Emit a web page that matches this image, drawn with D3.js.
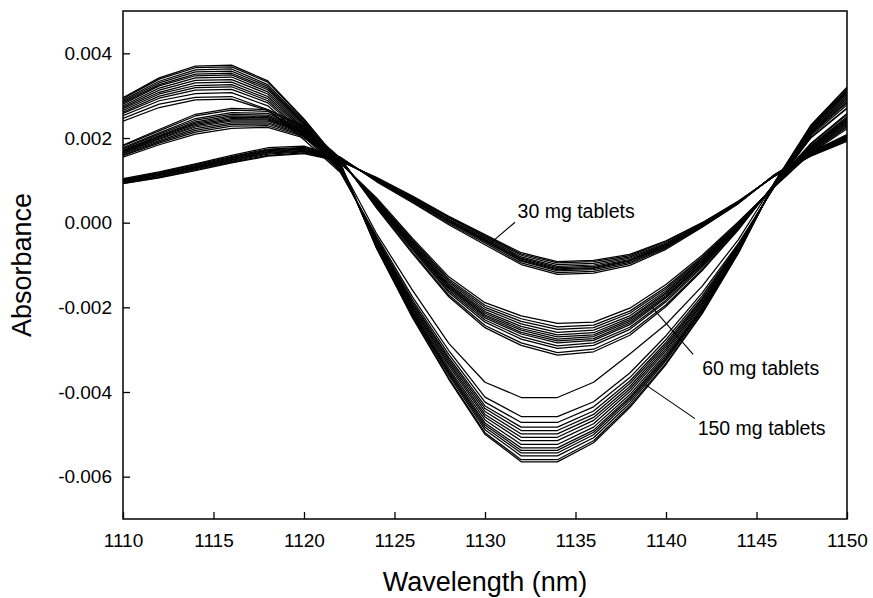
<!DOCTYPE html>
<html>
<head>
<meta charset="utf-8">
<script src="https://cdn.jsdelivr.net/npm/d3@7"></script>
<style>
  body { margin: 0; background: #fff; }
  svg { display: block; }
  text { font-family: "Liberation Sans", Arial, Helvetica, sans-serif; fill: #000; }
</style>
</head>
<body>
<div id="chart"></div>
<script>
// wavelength grid (nm), one reading every 2 nm
const wavelengths = [1110,1112,1114,1116,1118,1120,1122,1124,1126,1128,1130,1132,1134,1136,1138,1140,1142,1144,1146,1148,1150];

// absorbance, in units of 0.001
const spectra30 = [
  [1.04,1.20,1.39,1.59,1.77,1.81,1.55,0.97,0.47,-0.05,-0.52,-0.99,-1.22,-1.19,-1.01,-0.63,-0.11,0.45,1.14,1.67,2.08],
  [1.02,1.18,1.37,1.56,1.74,1.78,1.54,0.99,0.49,-0.02,-0.48,-0.95,-1.18,-1.15,-0.97,-0.60,-0.09,0.46,1.13,1.66,2.06],
  [1.01,1.16,1.35,1.54,1.72,1.76,1.52,1.00,0.51,0.01,-0.45,-0.91,-1.14,-1.11,-0.94,-0.58,-0.09,0.47,1.13,1.64,2.04],
  [0.995,1.15,1.33,1.52,1.70,1.74,1.51,1.01,0.53,0.03,-0.43,-0.89,-1.11,-1.08,-0.91,-0.56,-0.08,0.47,1.12,1.63,2.02],
  [0.99,1.14,1.32,1.51,1.68,1.73,1.50,1.02,0.54,0.04,-0.41,-0.86,-1.09,-1.06,-0.89,-0.54,-0.07,0.48,1.12,1.63,2.01],
  [0.97,1.12,1.30,1.49,1.66,1.71,1.50,1.02,0.56,0.06,-0.39,-0.84,-1.06,-1.03,-0.87,-0.52,-0.05,0.48,1.12,1.62,1.99],
  [0.96,1.11,1.29,1.47,1.64,1.69,1.49,1.04,0.57,0.08,-0.36,-0.81,-1.03,-1.00,-0.84,-0.50,-0.04,0.49,1.11,1.61,1.98],
  [0.95,1.09,1.27,1.45,1.62,1.67,1.47,1.05,0.59,0.11,-0.33,-0.77,-0.99,-0.96,-0.81,-0.48,-0.03,0.50,1.11,1.59,1.96],
  [0.93,1.07,1.25,1.43,1.59,1.65,1.46,1.06,0.61,0.13,-0.30,-0.74,-0.95,-0.92,-0.78,-0.45,-0.01,0.50,1.10,1.58,1.94],
  [0.92,1.06,1.23,1.41,1.57,1.63,1.45,1.07,0.63,0.15,-0.28,-0.71,-0.92,-0.89,-0.75,-0.43,0.00,0.51,1.10,1.57,1.92]
];

const spectra60 = [
  [1.83,2.20,2.56,2.70,2.67,2.28,1.53,0.35,-0.73,-1.75,-2.48,-2.90,-3.13,-3.05,-2.66,-1.98,-1.13,-0.17,0.93,1.87,2.58],
  [1.81,2.17,2.52,2.66,2.63,2.26,1.52,0.37,-0.70,-1.71,-2.43,-2.84,-3.07,-2.99,-2.60,-1.94,-1.10,-0.15,0.92,1.85,2.55],
  [1.77,2.12,2.46,2.60,2.58,2.22,1.50,0.40,-0.65,-1.65,-2.35,-2.75,-2.97,-2.90,-2.52,-1.87,-1.05,-0.13,0.91,1.82,2.50],
  [1.75,2.09,2.42,2.56,2.54,2.20,1.49,0.42,-0.62,-1.61,-2.30,-2.69,-2.91,-2.84,-2.47,-1.83,-1.02,-0.11,0.90,1.80,2.47],
  [1.72,2.06,2.38,2.52,2.51,2.17,1.48,0.44,-0.59,-1.57,-2.25,-2.63,-2.84,-2.78,-2.41,-1.78,-0.99,-0.10,0.90,1.78,2.44],
  [1.70,2.04,2.35,2.49,2.48,2.15,1.47,0.46,-0.57,-1.54,-2.21,-2.59,-2.79,-2.74,-2.37,-1.75,-0.97,-0.09,0.89,1.77,2.42],
  [1.69,2.02,2.32,2.46,2.45,2.14,1.47,0.47,-0.55,-1.51,-2.18,-2.54,-2.75,-2.69,-2.33,-1.72,-0.95,-0.07,0.89,1.75,2.40],
  [1.67,1.99,2.29,2.43,2.43,2.12,1.46,0.49,-0.52,-1.48,-2.14,-2.50,-2.70,-2.65,-2.29,-1.68,-0.92,-0.06,0.88,1.74,2.37],
  [1.65,1.97,2.26,2.40,2.40,2.10,1.45,0.50,-0.50,-1.45,-2.10,-2.45,-2.65,-2.60,-2.25,-1.65,-0.90,-0.05,0.88,1.72,2.35],
  [1.63,1.94,2.22,2.36,2.36,2.08,1.44,0.52,-0.47,-1.41,-2.05,-2.39,-2.59,-2.54,-2.20,-1.61,-0.87,-0.03,0.87,1.70,2.32],
  [1.60,1.91,2.18,2.32,2.33,2.05,1.43,0.54,-0.44,-1.37,-2.00,-2.33,-2.52,-2.48,-2.14,-1.56,-0.84,-0.02,0.87,1.68,2.29],
  [1.58,1.88,2.14,2.28,2.29,2.03,1.42,0.56,-0.41,-1.33,-1.95,-2.27,-2.46,-2.42,-2.09,-1.52,-0.81,0.00,0.86,1.66,2.26],
  [1.55,1.84,2.09,2.23,2.25,2.00,1.41,0.59,-0.37,-1.28,-1.89,-2.20,-2.38,-2.35,-2.02,-1.46,-0.77,0.02,0.85,1.64,2.22]
];

const spectra150 = [
  [2.95,3.42,3.70,3.72,3.35,2.45,1.42,-0.60,-2.25,-3.70,-5.00,-5.65,-5.65,-5.20,-4.37,-3.35,-2.15,-0.72,0.95,2.30,3.20],
  [2.93,3.39,3.66,3.68,3.32,2.43,1.41,-0.59,-2.23,-3.67,-4.96,-5.60,-5.60,-5.15,-4.33,-3.32,-2.13,-0.71,0.95,2.29,3.18],
  [2.89,3.34,3.61,3.63,3.26,2.39,1.39,-0.56,-2.19,-3.61,-4.89,-5.51,-5.51,-5.08,-4.27,-3.26,-2.09,-0.69,0.94,2.26,3.14],
  [2.86,3.30,3.56,3.58,3.22,2.36,1.38,-0.54,-2.16,-3.57,-4.83,-5.44,-5.44,-5.01,-4.21,-3.22,-2.06,-0.68,0.93,2.24,3.11],
  [2.83,3.26,3.51,3.53,3.18,2.33,1.36,-0.53,-2.13,-3.53,-4.78,-5.38,-5.38,-4.95,-4.16,-3.18,-2.03,-0.66,0.93,2.23,3.08],
  [2.80,3.23,3.47,3.49,3.14,2.30,1.35,-0.51,-2.10,-3.49,-4.73,-5.32,-5.32,-4.90,-4.12,-3.14,-2.00,-0.65,0.92,2.21,3.05],
  [2.76,3.18,3.42,3.44,3.09,2.26,1.33,-0.49,-2.06,-3.44,-4.66,-5.24,-5.24,-4.83,-4.06,-3.09,-1.96,-0.63,0.91,2.19,3.01],
  [2.72,3.13,3.36,3.38,3.04,2.22,1.31,-0.46,-2.02,-3.38,-4.59,-5.15,-5.15,-4.75,-3.99,-3.03,-1.92,-0.61,0.90,2.16,2.97],
  [2.69,3.08,3.30,3.32,2.98,2.19,1.29,-0.44,-1.99,-3.33,-4.53,-5.07,-5.07,-4.67,-3.93,-2.98,-1.89,-0.59,0.90,2.14,2.94],
  [2.65,3.04,3.24,3.26,2.93,2.15,1.28,-0.42,-1.95,-3.28,-4.46,-4.99,-4.99,-4.60,-3.87,-2.93,-1.85,-0.58,0.89,2.12,2.90],
  [2.61,2.99,3.19,3.21,2.88,2.11,1.26,-0.40,-1.91,-3.23,-4.39,-4.91,-4.91,-4.53,-3.80,-2.88,-1.81,-0.56,0.88,2.10,2.86],
  [2.58,2.94,3.13,3.15,2.83,2.08,1.24,-0.38,-1.88,-3.18,-4.33,-4.83,-4.83,-4.45,-3.74,-2.83,-1.78,-0.54,0.88,2.08,2.83],
  [2.53,2.88,3.05,3.07,2.76,2.03,1.22,-0.35,-1.83,-3.11,-4.24,-4.72,-4.72,-4.35,-3.66,-2.76,-1.73,-0.52,0.87,2.05,2.78],
  [2.46,2.80,2.96,2.98,2.67,1.96,1.19,-0.31,-1.76,-3.02,-4.12,-4.58,-4.58,-4.23,-3.55,-2.67,-1.66,-0.49,0.85,2.01,2.71],
  [2.40,2.72,2.90,2.92,2.65,2.05,1.35,-0.25,-1.60,-2.85,-3.77,-4.13,-4.13,-3.77,-3.10,-2.40,-1.50,-0.40,0.95,2.00,2.70]
];

const xTicks = [1110,1115,1120,1125,1130,1135,1140,1145,1150];
const yTicks = [-6,-4,-2,0,2,4];
const groupNames = ["30 mg tablets","60 mg tablets","150 mg tablets"];

const width = 873, height = 598;
const margin = { top: 11, right: 26, bottom: 79, left: 123 };
const plotW = width - margin.left - margin.right;
const plotH = height - margin.top - margin.bottom;

const svg = d3.select("#chart").append("svg")
  .attr("width", width)
  .attr("height", height);

const x = d3.scaleLinear().domain([1110, 1150]).range([0, plotW]);
const y = d3.scaleLinear().domain([-7, 5]).range([plotH, 0]);

const chart = svg.append("g")
  .attr("transform", `translate(${margin.left},${margin.top})`);

const clipId = "plot-clip";
chart.append("clipPath").attr("id", clipId)
  .append("rect").attr("width", plotW).attr("height", plotH);

// spectra
const line = d3.line()
  .x((d, i) => x(wavelengths[i]))
  .y(d => y(d));

const allSpectra = [...spectra30, ...spectra60, ...spectra150];
chart.append("g")
  .attr("clip-path", `url(#${clipId})`)
  .selectAll("path")
  .data(allSpectra)
  .enter()
  .append("path")
  .attr("d", line)
  .attr("fill", "none")
  .attr("stroke", "#000")
  .attr("stroke-width", 1.25)
  .attr("stroke-linejoin", "round");

// axes (ticks point inward)
const fmt = d => (d / 1000).toFixed(3);

const xAxis = chart.append("g")
  .attr("transform", `translate(0,${plotH})`)
  .call(d3.axisBottom(x).tickValues(xTicks).tickSizeInner(-7).tickSizeOuter(0).tickPadding(15).tickFormat(d3.format("d")));

const yAxis = chart.append("g")
  .call(d3.axisLeft(y).tickValues(yTicks).tickSizeInner(-7).tickSizeOuter(0).tickPadding(11).tickFormat(fmt));

[xAxis, yAxis].forEach(a => {
  a.selectAll("text").style("font-size", "19px").attr("fill", "#000");
  a.selectAll("line").attr("stroke", "#000").attr("stroke-width", 1.3);
  a.select(".domain").remove();
});

// frame
chart.append("rect")
  .attr("width", plotW)
  .attr("height", plotH)
  .attr("fill", "none")
  .attr("stroke", "#000")
  .attr("stroke-width", 1.5);

// group labels with leader lines (positions in data units)
const notes = [
  { name: groupNames[0], tx: 1131.8, ty: 0.12,  x1: 1131.66, y1: 0.01,  x2: 1130.37, y2: -0.46 },
  { name: groupNames[1], tx: 1142.0, ty: -3.59, x1: 1141.50, y1: -3.11, x2: 1139.21, y2: -1.99 },
  { name: groupNames[2], tx: 1141.75, ty: -5.02, x1: 1141.60, y1: -4.63, x2: 1138.84, y2: -3.82 }
];

chart.selectAll(".leader")
  .data(notes)
  .enter()
  .append("line")
  .attr("class", "leader")
  .attr("x1", d => x(d.x1)).attr("y1", d => y(d.y1))
  .attr("x2", d => x(d.x2)).attr("y2", d => y(d.y2))
  .attr("stroke", "#000")
  .attr("stroke-width", 1.1);

chart.selectAll(".note")
  .data(notes)
  .enter()
  .append("text")
  .attr("class", "note")
  .attr("x", d => x(d.tx))
  .attr("y", d => y(d.ty))
  .style("font-size", "19.5px")
  .text(d => d.name);

// axis titles
svg.append("text")
  .attr("x", margin.left + plotW / 2)
  .attr("y", 591)
  .attr("text-anchor", "middle")
  .style("font-size", "27px")
  .text("Wavelength (nm)");

svg.append("text")
  .attr("transform", `translate(31,${margin.top + plotH / 2}) rotate(-90)`)
  .attr("text-anchor", "middle")
  .style("font-size", "27px")
  .text("Absorbance");
</script>
</body>
</html>
